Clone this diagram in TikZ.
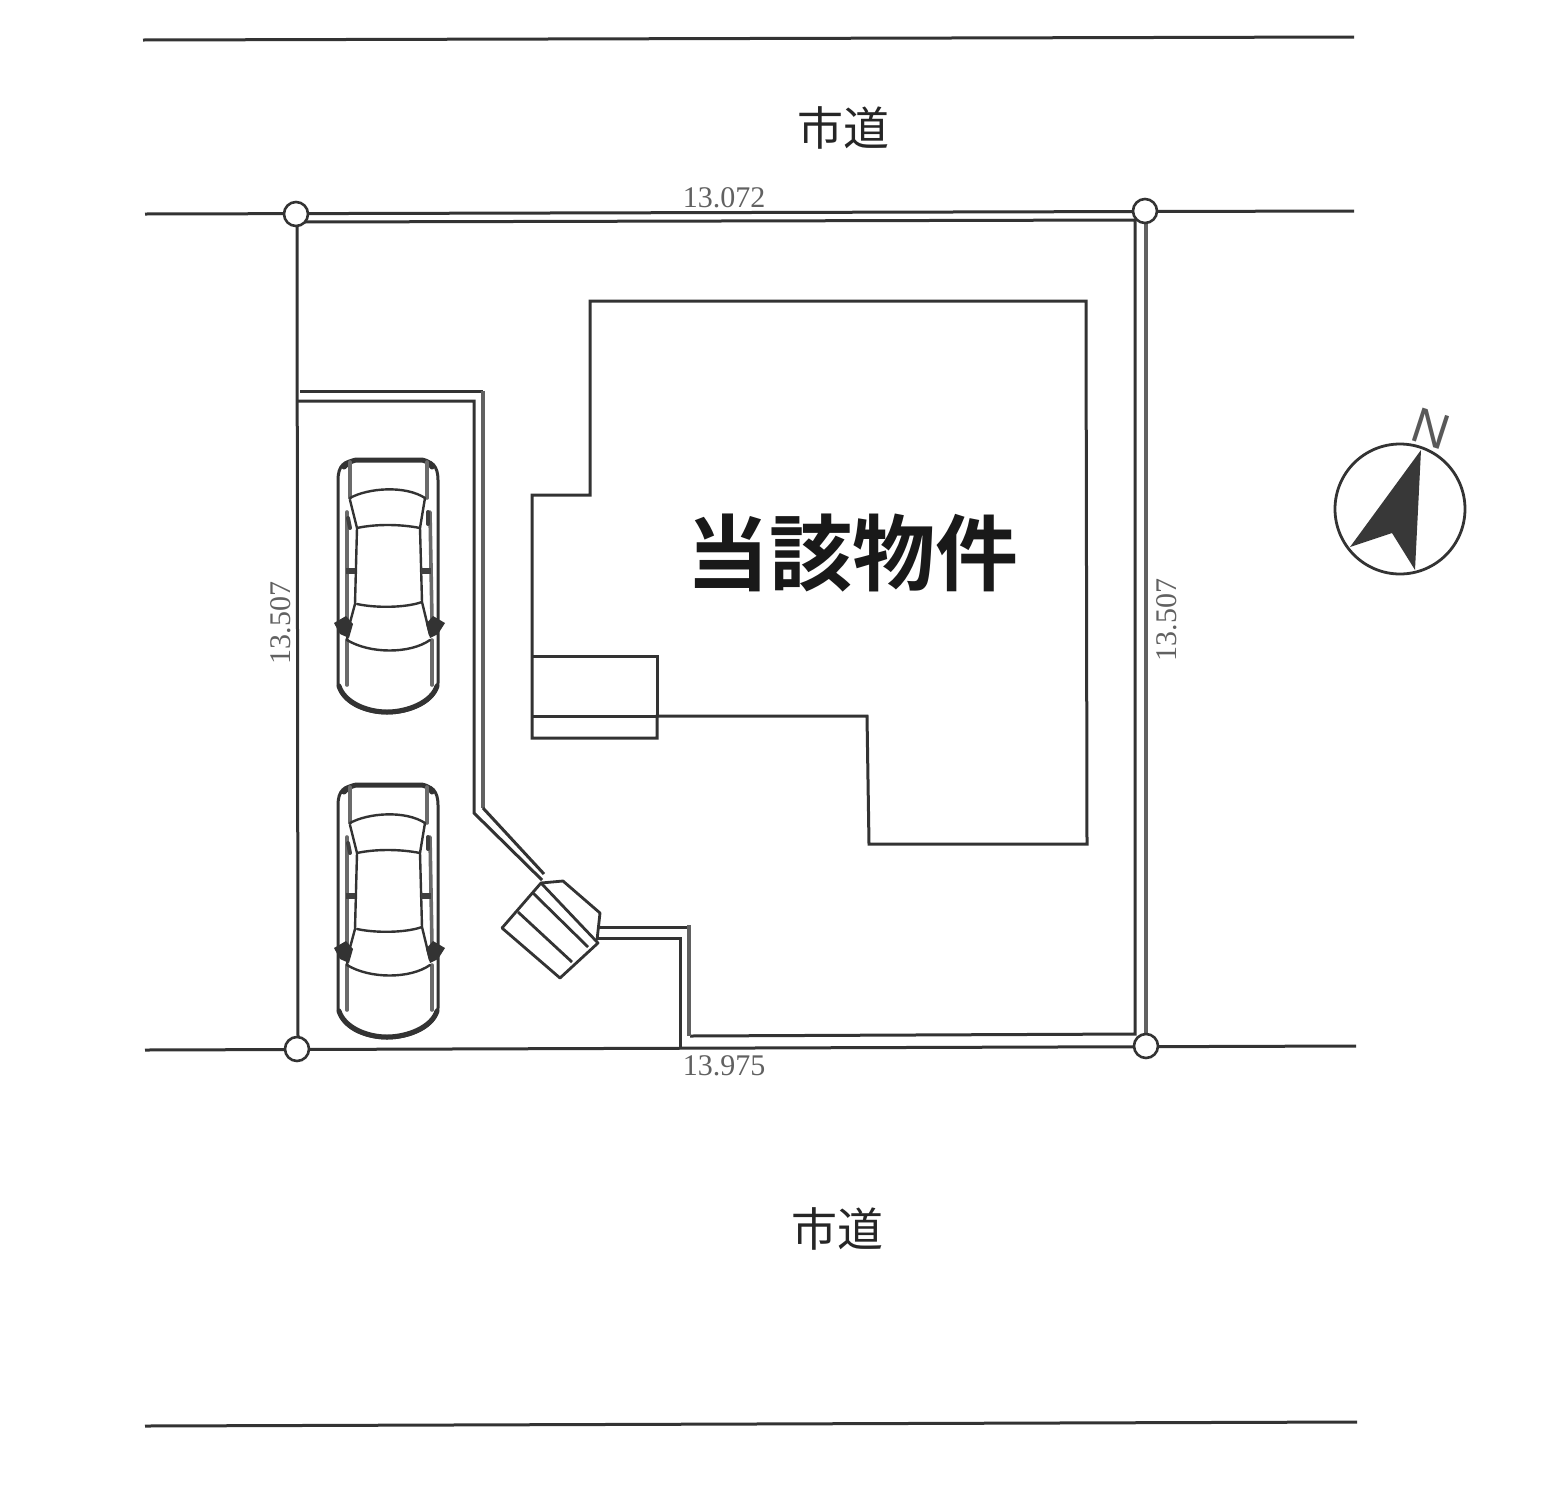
\documentclass[tikz,border=0pt]{standalone}
\usepackage{fontspec}
\newfontfamily\cjkb{Noto Sans CJK JP Bold}
\newfontfamily\cjk{Noto Sans CJK JP}
\newfontfamily\sansn{Liberation Sans}
\setmainfont{Liberation Serif}
\definecolor{ink}{gray}{0.2}
\tikzset{
  x=1pt,y=-1pt,
  ln/.style={draw=ink,line width=3pt,line join=miter},
  gr/.style={draw=black!62,line width=4.5pt,line join=miter},
  stepln/.style={draw=ink,line width=2.8pt,line join=round},
  pin/.style={circle,draw=ink,line width=2.6pt,fill=white,minimum size=24pt,inner sep=0pt},
  dim/.style={font=\fontsize{30}{30}\selectfont,text=black!62,inner sep=0pt},
  road/.style={font=\cjk\fontsize{46}{46}\selectfont,text=black!85,inner sep=0pt},
  carln/.style={draw=ink,line width=2.4pt,line cap=round,line join=round},
  cargr/.style={draw=black!58,line width=3.6pt,line cap=round},
  car/.pic={
    \draw[carln,line width=3pt,fill=white] (18,40) .. controls (18,26) and (24,20) .. (38,20) -- (100,20)
      .. controls (112,20) and (118,26) .. (118,40) -- (118,243)
      .. controls (116,262) and (90,273) .. (67,273)
      .. controls (44,273) and (20,262) .. (18,243) -- cycle;
    \draw[carln,line width=5pt] (24,27) .. controls (30,21) and (34,20) .. (38,20) -- (100,20) .. controls (104,20) and (108,21) .. (112,27);
    \draw[carln,line width=5pt] (19,246) .. controls (24,262) and (46,272) .. (67,272) .. controls (88,272) and (112,262) .. (117,246);
    \draw[cargr] (30,22) -- (30,58);
    \draw[cargr] (107,22) -- (107,58);
    \draw[cargr] (27,200) -- (27,245);
    \draw[cargr] (112,200) -- (112,245);
    \draw[cargr] (27,72) -- (27,180);
    \draw[cargr] (110,72) -- (112,180);
    \draw[carln] (30,58) .. controls (48,48) and (85,45) .. (105,58);
    \draw[carln] (37,88) .. controls (55,84) and (80,84) .. (100,88);
    \draw[carln] (37,164) .. controls (55,168) and (85,168) .. (102,162);
    \draw[carln] (27,200) .. controls (50,214) and (90,214) .. (110,200);
    \draw[carln] (30,60) -- (37,88) -- (35,164) -- (28,190) -- (27,200);
    \draw[carln] (105,58) -- (100,88) -- (102,162) -- (110,195);
    \draw[cargr,line width=6pt,draw=black!75,line cap=butt] (26,131) -- (35,131);
    \draw[cargr,line width=6pt,draw=black!75,line cap=butt] (101,131) -- (111,131);
    \draw[cargr,line width=4pt,draw=black!75] (28,78) -- (30,88);
    \draw[cargr,line width=4pt,draw=black!75] (108,72) -- (108,84);
    \fill[ink] (14,183) -- (26,176) -- (33,184) -- (29,198) -- (20,194) -- cycle;
    \fill[ink] (125,183) -- (113,176) -- (106,184) -- (110,198) -- (118,194) -- cycle;
  }
}
\begin{document}
\begin{tikzpicture}
\useasboundingbox[fill=white] (0,0) rectangle (1545,1497);
% road lines
\coordinate (r1a) at (143,40);  \coordinate (r1b) at (1354,37);
\coordinate (r2a) at (145,214); \coordinate (r2b) at (1354,211);
\coordinate (r3a) at (145,1050);\coordinate (r3b) at (1356,1046);
\coordinate (r4a) at (145,1426);\coordinate (r4b) at (1357,1422);
\draw[ln] (r1a) -- (r1b);
\draw[ln] (r2a) -- (r2b);
\draw[ln] (r3a) -- (r3b);
\draw[ln] (r4a) -- (r4b);
% site boundary
\draw[ln] (303,222) -- (1135,220) -- (1135,1034) -- (690,1036);
\draw[gr] (1146,222) -- (1146,1036);
\draw[ln] (297,226) -- (298,1038);
% wall
\draw[ln] (300,391) -- (483,391);
\draw[gr] (483,391) -- (483,808);
\draw[ln] (483,808) -- (544,874);
\draw[ln] (298,401) -- (474,401) -- (474,813) -- (542,880);
\draw[ln] (598,927) -- (689,927);
\draw[gr] (689,925) -- (689,1036);
\draw[ln] (598,938) -- (680,938) -- (680,1048);
% steps
\draw[stepln] (541,883) -- (502,928) -- (560,978) -- (598,943) -- cycle;
\draw[stepln] (533,893) -- (588,947);
\draw[stepln] (518,912) -- (572,962);
\draw[stepln] (541,883) -- (563,881) -- (600,913) -- (597,940);
% building
\draw[ln] (590,301) -- (1086,301) -- (1087,844) -- (869,844) -- (867,716) -- (657,716) -- (657,738) -- (532,738) -- (532,495) -- (590,495) -- cycle;
\draw[ln] (532,656) -- (657,656) -- (657,716);
\draw[ln] (532,716) -- (657,716);
% boundary pins
\node[pin] (tl) at (296,214) {};
\node[pin] (tr) at (1145,211) {};
\node[pin] (bl) at (297,1049) {};
\node[pin] (br) at (1146,1046) {};
% cars
\pic at (320,440) {car};
\pic at (320,765) {car};
% labels
\node[road] (t1) at (843,128) {市道};
\node[road] (t2) at (837,1229) {市道};
\node[font=\cjkb\fontsize{83}{83}\selectfont,text=black!90,inner sep=0pt] (t3) at (852,553) {当該物件};
\node[dim] (d1) at (724,198) {13.072};
\node[dim] (d2) at (724,1066) {13.975};
\node[dim,rotate=90] (d3) at (281,623) {13.507};
\node[dim,rotate=90] (d4) at (1167,620) {13.507};
% compass
\node[circle,draw=ink,line width=2.8pt,minimum size=130pt,inner sep=0pt] (cp) at (1400,509) {};
\fill[black!78] (1421,450) -- (1350,547) -- (1392,533) -- (1415,570) -- cycle;
\node[font=\sansn\fontsize{50}{50}\selectfont,text=black!65,inner sep=0pt,rotate=-18] (nn) at (1431,429) {N};
\end{tikzpicture}
\end{document}
